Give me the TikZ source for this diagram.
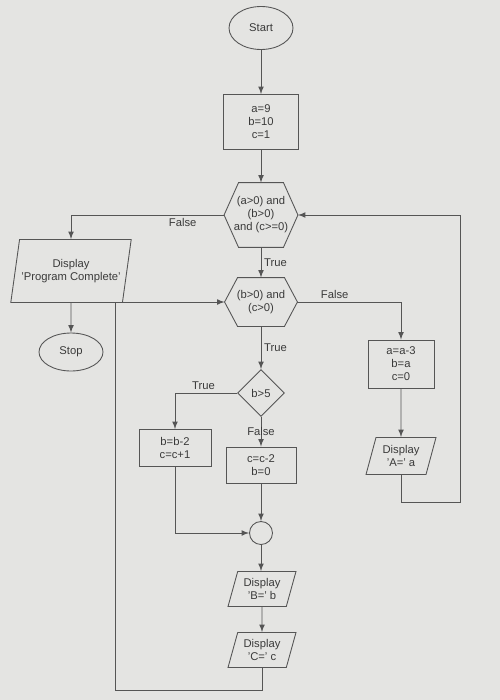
\documentclass[tikz,border=0pt]{standalone}
\usepackage{fontspec}
\setmainfont{Liberation Sans}
\usetikzlibrary{shapes.geometric,arrows}

\definecolor{paper}{HTML}{E4E4E2}
\definecolor{ink}{HTML}{555555}
\definecolor{script}{HTML}{3A3A3A}

\tikzset{
	flow/.style={draw=ink, line width=0.5pt},
	go/.style={flow, -latex},
	base/.style={flow, text=script, align=center, inner sep=1pt,
		font=\fontsize{6.4pt}{7.4pt}\selectfont},
	terminal/.style={base, ellipse},
	procbox/.style={base, rectangle},
	hexbox/.style={base, rectangle, draw=none},
	iobox/.style={base, trapezium, trapezium left angle=72, trapezium right angle=108,
		trapezium stretches=true},
	decision/.style={base, diamond},
	joint/.style={flow, circle, minimum size=0.46cm, inner sep=0pt},
	tag/.style={text=script, font=\fontsize{6.4pt}{7.4pt}\selectfont, inner sep=1.5pt}
}

% outline of a hexagon round a named node: #1 node, #2 depth of the points
\newcommand{\hexoutline}[2]{%
	\draw[flow] (#1.west) -- ([xshift=#2]#1.north west) -- ([xshift=-#2]#1.north east)
		-- (#1.east) -- ([xshift=-#2]#1.south east) -- ([xshift=#2]#1.south west) -- cycle;}

\begin{document}
\begin{tikzpicture}[x=0.02cm, y=-0.02cm]
	\fill[paper] (0,0) rectangle (500,700);
	\useasboundingbox (0,0) rectangle (500,700);

	% main column
	\node[terminal, minimum width=1.28cm, minimum height=0.86cm] (Start) at (261,28) {Start};
	\node[procbox, minimum width=1.5cm, minimum height=1.1cm] (Init) at (261,122) {a=9\\b=10\\c=1};
	\node[hexbox, minimum width=1.46cm, minimum height=1.28cm] (OuterTest) at (261,215) {(a>0) and\\(b>0)\\and (c>=0)};
	\hexoutline{OuterTest}{0.29cm}
	\node[hexbox, minimum width=1.44cm, minimum height=0.96cm] (InnerTest) at (261,302) {(b>0) and\\(c>0)};
	\hexoutline{InnerTest}{0.26cm}
	\node[decision, minimum width=0.94cm, minimum height=0.94cm] (BigB) at (261,393) {b>5};
	\node[procbox, minimum width=1.4cm, minimum height=0.72cm] (ResetC) at (261,465) {c=c-2\\b=0};
	\node[joint] (Join) at (261,533) {};
	\node[iobox, minimum width=1.36cm, minimum height=0.7cm] (ShowB) at (262,589) {Display\\'B=' b};
	\node[iobox, minimum width=1.36cm, minimum height=0.7cm] (ShowC) at (262,650) {Display\\'C=' c};

	% side branches
	\node[iobox, minimum width=2.1cm, minimum height=1.26cm] (ShowDone) at (71,271) {Display\\'Program Complete'};
	\node[terminal, minimum width=1.28cm, minimum height=0.76cm] (Stop) at (71,352) {Stop};
	\node[procbox, minimum width=1.44cm, minimum height=0.74cm] (DecB) at (175,448) {b=b-2\\c=c+1};
	\node[procbox, minimum width=1.32cm, minimum height=0.96cm] (ResetA) at (401,364) {a=a-3\\b=a\\c=0};
	\node[iobox, minimum width=1.4cm, minimum height=0.74cm] (ShowA) at (401,456) {Display\\'A=' a};

	\coordinate (LoopA) at (460,502);
	\coordinate (LoopB) at (115,690);

	% connectors
	\draw[go] (Start) -- (Init);
	\draw[go] (Init) -- (OuterTest.north);
	\draw[go] (OuterTest.west) -| node[tag, pos=0.135, below] {False} (ShowDone.north);
	\draw[go] (ShowDone.south) -- (Stop.north);
	\draw[go] (OuterTest.south) -- node[tag, right] {True} (InnerTest.north);
	\draw[go] (InnerTest.east) -| node[tag, pos=0.18, above] {False} (ResetA.north);
	\draw[go] (ResetA) -- (ShowA);
	\draw[go] (ShowA.south) |- (LoopA) |- (OuterTest.east);
	\draw[go] (InnerTest.south) -- node[tag, right] {True} (BigB.north);
	\draw[go] (BigB.west) -| node[tag, pos=0.27, above] {True} (DecB.north);
	\draw[go] (BigB.south) -- node[tag] {False} (ResetC.north);
	\draw[go] (ResetC) -- (Join);
	\draw[go] (DecB.south) |- (Join.west);
	\draw[go] (Join) -- (ShowB.north -| Join);
	\draw[go] (ShowB) -- (ShowC);
	\draw[go] (ShowC.south) |- (LoopB) |- (InnerTest.west);
\end{tikzpicture}
\end{document}
